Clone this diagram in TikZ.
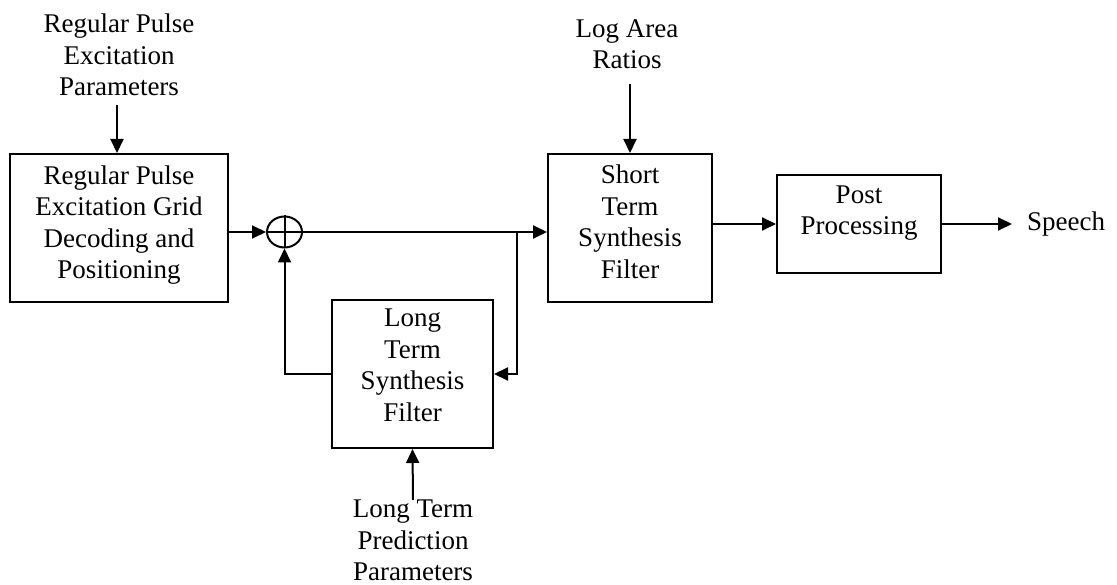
\documentclass[tikz,border=0pt]{standalone}
\usepackage{fontspec}
\setmainfont{Liberation Serif}
\usetikzlibrary{arrows.meta,shapes.geometric}

\tikzset{
  txt/.style={font=\fontsize{27}{31.5}\selectfont, align=center, inner sep=0pt},
  blockbox/.style={txt, draw, line width=2pt, rectangle},
  sumnode/.style={draw, ellipse, line width=2pt, minimum width=35pt, minimum height=31pt, inner sep=0pt},
  link/.style={line width=2pt},
  arr/.style={link, -{Triangle[length=14pt,width=13pt]}},
}

\begin{document}
\begin{tikzpicture}[x=1pt, y=-1pt]
  \useasboundingbox (0,0) rectangle (1117,585);

  % processing blocks
  \node[blockbox, minimum width=218pt, minimum height=148pt, text depth=12pt]
    (grid) at (119,228) {Regular Pulse\\Excitation Grid\\Decoding and\\Positioning};
  \node[sumnode] (sum) at (284.5,232) {};
  \draw[link] (sum.north) -- (sum.south) (sum.west) -- (sum.east);
  \node[blockbox, minimum width=164pt, minimum height=148pt, text depth=13pt]
    (stf) at (630,228) {Short\\Term\\Synthesis\\Filter};
  \node[blockbox, minimum width=164pt, minimum height=98pt, text depth=28pt]
    (post) at (859,224) {Post\\Processing};
  \node[blockbox, minimum width=161pt, minimum height=148pt, text depth=18pt]
    (ltf) at (412.5,374) {Long\\Term\\Synthesis\\Filter};

  % inputs and output
  \node[txt, anchor=north] (rpe) at (119,14) {Regular Pulse\\Excitation\\Parameters};
  \node[txt, anchor=north] (lar) at (627,19) {Log Area\\Ratios};
  \node[txt, anchor=north] (ltp) at (413,500) {Long Term\\Prediction\\Parameters};
  \node[txt, anchor=west, inner xsep=15pt] (speech) at (1012,224) {Speech};

  \coordinate (branch) at (517,232);

  % connections
  \draw[arr, shorten <=9pt] (rpe.south -| 117,0) -- (grid.north -| 117,0);
  \draw[arr] (grid.east |- sum.west) -- (sum.west);
  \draw[link] (sum.east) -- (branch);
  \draw[arr] (branch) -- (stf.west |- branch);
  \draw[arr] (branch) |- (ltf.east);
  \draw[arr] (ltf.west) -| (sum.south);
  \draw[arr, shorten <=15pt] (stf.north |- lar.south) -- (stf.north);
  \draw[arr] (ltp.north) -- (ltf.south);
  \draw[arr] (stf.east |- post.west) -- (post.west);
  \draw[arr] (post.east) -- (speech.west);
\end{tikzpicture}
\end{document}
